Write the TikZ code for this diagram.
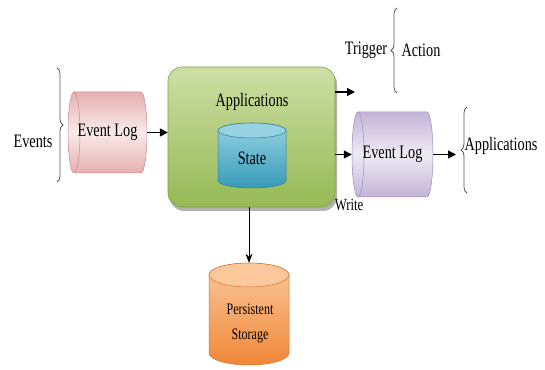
\documentclass[tikz,border=0pt]{standalone}
\usepackage{fontspec}
\setmainfont{Liberation Serif}[FakeStretch=0.75]
\usetikzlibrary{arrows.meta,decorations.pathreplacing}
\definecolor{pinkA}{RGB}{228,176,176}
\definecolor{pinkB}{RGB}{250,234,234}
\definecolor{pinkE}{RGB}{205,140,140}
\definecolor{greenA}{RGB}{205,223,165}
\definecolor{greenB}{RGB}{150,185,85}
\definecolor{greenE}{RGB}{125,160,70}
\definecolor{blueA}{RGB}{55,155,185}
\definecolor{blueB}{RGB}{150,210,225}
\definecolor{blueE}{RGB}{45,125,155}
\definecolor{purA}{RGB}{195,180,215}
\definecolor{purB}{RGB}{238,234,244}
\definecolor{purE}{RGB}{160,140,190}
\definecolor{orA}{RGB}{240,135,55}
\definecolor{orB}{RGB}{251,200,155}
\definecolor{orE}{RGB}{215,115,45}
\tikzset{
  lab/.style={font=\fontsize{19}{22}\selectfont, inner sep=0pt},
  smalllab/.style={font=\fontsize{16}{19}\selectfont, inner sep=0pt, align=center},
  box/.style={inner sep=0pt, font=\fontsize{19}{22}\selectfont},
  arr/.style={-{Triangle[length=8pt,width=8pt]}, line width=1.3pt},
  brc/.style={decorate, decoration={brace, amplitude=6pt}, draw=black!65, line width=0.8pt},
}
\begin{document}
\begin{tikzpicture}[x=1pt,y=1pt]
\useasboundingbox (0,0) rectangle (545,369);
% ---- green applications box
\fill[black!30, rounded corners=14pt] (170,158) rectangle (337,299);
\shade[top color=greenA, bottom color=greenB, draw=greenE, rounded corners=14pt, line width=0.6pt]
  (168,162) rectangle (335,302);
\node[box, minimum width=167pt, minimum height=140pt] (app) at (251.5,232) {};
\node[lab] (apptxt) at (252,267) {Applications};
% ---- State cylinder
\shade[top color=blueB, bottom color=blueA, draw=blueE, line width=0.5pt]
  (218,238.5) -- (218,188.5) arc[start angle=180, end angle=360, x radius=34, y radius=7.5]
  -- (286,238.5) arc[start angle=0, end angle=180, x radius=34, y radius=7.5] -- cycle;
\fill[blueB, draw=blueE, line width=0.5pt] (252,238.5) ellipse[x radius=34, y radius=7.5];
\node[box, minimum width=68pt, minimum height=65pt] (st) at (252,213.5) {};
\node[lab] (sttxt) at (252,211) {State};
% ---- Pink Event Log cylinder
\shade[top color=pinkA, bottom color=pinkA, middle color=pinkB, draw=pinkE, line width=0.5pt]
  (74,277) -- (141,277) arc[start angle=90, end angle=-90, x radius=6, y radius=40.5]
  -- (74,196) arc[start angle=270, end angle=90, x radius=6, y radius=40.5] -- cycle;
\draw[pinkE, line width=0.5pt] (74,277) arc[start angle=90, end angle=-90, x radius=6, y radius=40.5];
\node[box, minimum width=79pt, minimum height=81pt] (el1) at (107.5,236.5) {Event Log};
% ---- Purple Event Log cylinder
\shade[top color=purA, bottom color=purA, middle color=purB, draw=purE, line width=0.5pt]
  (358,257) -- (427,257) arc[start angle=90, end angle=-90, x radius=6, y radius=42.5]
  -- (358,172) arc[start angle=270, end angle=90, x radius=6, y radius=42.5] -- cycle;
\draw[purE, line width=0.5pt] (358,257) arc[start angle=90, end angle=-90, x radius=6, y radius=42.5];
\node[box, minimum width=81pt, minimum height=85pt] (el2) at (392.5,214.5) {Event Log};
% ---- Persistent Storage cylinder
\shade[top color=orB, bottom color=orA, draw=orE, line width=0.5pt]
  (209,94) -- (209,16) arc[start angle=180, end angle=360, x radius=40, y radius=12]
  -- (289,94) arc[start angle=0, end angle=180, x radius=40, y radius=12] -- cycle;
\fill[orB, draw=orE, line width=0.5pt] (249,94) ellipse[x radius=40, y radius=12];
\node[box, minimum width=80pt, minimum height=102pt] (ps) at (249,55) {};
\node[smalllab] (pstxt) at (250,46) {Persistent\\[6pt]Storage};
% ---- text labels
\node[lab] (events) at (33,228) {Events};
\node[lab] (trig) at (366,319) {Trigger};
\node[lab] (act) at (421,319) {Action};
\node[lab] (apps) at (501,223) {Applications};
\node[font=\fontsize{17}{20}\selectfont, inner sep=0pt] (write) at (349,164) {Write};
% ---- braces
\draw[brc] (57,301) -- (57,187);
\draw[brc] (397,276) -- (397,361);
\draw[brc] (467,176) -- (467,262);
% ---- connectors
\coordinate (trigend) at (355,277);
\coordinate (appsend) at (456,214.5);
\draw[arr] (el1.east) -- (el1.east -| app.west);
\draw[arr] (app.east |- trigend) -- (trigend);
\draw[arr] (app.east |- el2.west) -- (el2.west);
\draw[arr] (el2.east) -- (appsend);
\draw[-{Stealth[length=9pt,width=7pt]}, line width=0.9pt] (ps.north |- app.south) -- (ps.north);
\end{tikzpicture}
\end{document}
